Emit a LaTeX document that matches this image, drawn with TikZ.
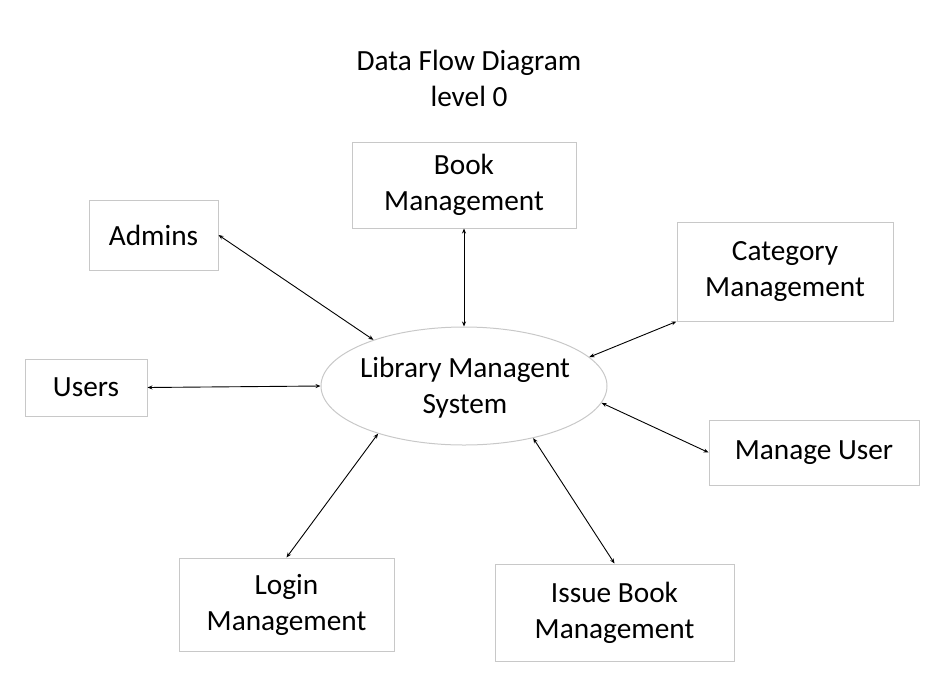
\documentclass[tikz,border=0pt]{standalone}
\usepackage{fontspec}
\setmainfont{Carlito}
\usetikzlibrary{arrows.meta, shapes.geometric}
\definecolor{boxgray}{RGB}{200,200,200}
\tikzset{
  dfdbox/.style={draw=boxgray, line width=1pt, inner sep=0pt, align=center},
  dfdflow/.style={{Stealth[length=5pt,width=4pt]}-{Stealth[length=5pt,width=4pt]}, line width=0.9pt}
}

\begin{document}
\begin{tikzpicture}[x=1pt, y=-1pt, font=\fontsize{29.3}{36}\selectfont]
    \useasboundingbox (0,0) rectangle (952,691);
    % title
    \node[align=center] (title) at (469,78) {Data Flow Diagram\\level 0};
    % central process
    \node[draw=boxgray, line width=1pt, ellipse, minimum width=286pt,
      minimum height=118pt, inner sep=0pt] (sys) at (464,386) {};
    \node[align=center] (systext) at (465,388) {Library Managent\\System};
    % external entities
    \node[dfdbox, minimum width=129pt, minimum height=70pt] (admins) at (153.5,235) {Admins};
    \node[dfdbox, minimum width=224pt, minimum height=86pt] (book) at (464,185) {Book\\Management};
    \node[dfdbox, minimum width=216pt, minimum height=99pt] (category) at (785,271.5) {Category\\Management};
    \node[dfdbox, minimum width=122pt, minimum height=57pt] (users) at (86,387.5) {Users};
    \node[dfdbox, minimum width=210pt, minimum height=65pt] (manage) at (814,452.5) {Manage User};
    \node[dfdbox, minimum width=215pt, minimum height=93pt] (login) at (286.5,604.5) {Login\\Management};
    \node[dfdbox, minimum width=239pt, minimum height=97pt] (issue) at (614.5,612.5) {Issue Book\\Management};
    % flows
    \draw[dfdflow] (admins.east) -- (sys.153);
    \draw[dfdflow] (book.south) -- (sys.north);
    \draw[dfdflow] (category.south west) -- (sys.13);
    \draw[dfdflow] (users.east) -- (sys.west);
    \draw[dfdflow] (manage.west) -- (sys.-7);
    \draw[dfdflow] (login.north) -- (sys.209);
    \draw[dfdflow] (issue.north) -- (sys.-37);
  \end{tikzpicture}
\end{document}
